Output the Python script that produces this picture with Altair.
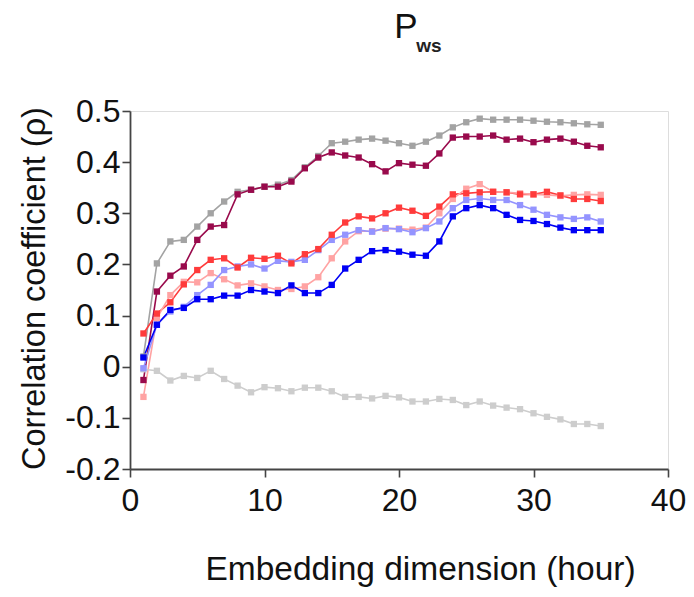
import altair as alt
import pandas as pd

# Embedding dimension (hour)
dims = list(range(1, 36))

series_names = ["s_gray", "s_maroon", "s_red", "s_pink", "s_lightblue", "s_blue", "s_lightgray"]
series_colors = ["#a3a3a3", "#990a4c", "#ff3b3b", "#ffa3a3", "#9494ff", "#0000f5", "#cdcdcd"]

gray = [0.02, 0.202, 0.245, 0.248, 0.274, 0.300, 0.323, 0.342, 0.346, 0.352,
        0.356, 0.365, 0.390, 0.412, 0.437, 0.440, 0.444, 0.446, 0.442, 0.437,
        0.432, 0.440, 0.452, 0.468, 0.478, 0.485, 0.483, 0.483, 0.483, 0.481,
        0.479, 0.478, 0.476, 0.474, 0.473]
maroon = [-0.026, 0.147, 0.178, 0.196, 0.248, 0.274, 0.277, 0.337, 0.346, 0.352,
          0.352, 0.362, 0.388, 0.409, 0.419, 0.413, 0.409, 0.396, 0.382, 0.398,
          0.395, 0.393, 0.417, 0.448, 0.450, 0.450, 0.452, 0.444, 0.446, 0.439,
          0.444, 0.446, 0.440, 0.432, 0.429]
red = [0.065, 0.104, 0.126, 0.161, 0.189, 0.209, 0.212, 0.194, 0.213, 0.211,
       0.217, 0.202, 0.220, 0.230, 0.258, 0.282, 0.294, 0.290, 0.300, 0.311,
       0.305, 0.295, 0.313, 0.337, 0.339, 0.341, 0.342, 0.341, 0.337, 0.337,
       0.342, 0.335, 0.328, 0.328, 0.324]
pink = [-0.059, 0.095, 0.140, 0.166, 0.165, 0.183, 0.171, 0.159, 0.163, 0.157,
        0.150, 0.152, 0.157, 0.175, 0.212, 0.245, 0.265, 0.265, 0.270, 0.270,
        0.268, 0.272, 0.300, 0.328, 0.348, 0.357, 0.342, 0.341, 0.339, 0.337,
        0.336, 0.334, 0.336, 0.337, 0.336]
lightblue = [-0.003, 0.082, 0.108, 0.117, 0.140, 0.160, 0.189, 0.196, 0.200, 0.192,
             0.207, 0.205, 0.209, 0.228, 0.248, 0.258, 0.267, 0.264, 0.271, 0.269,
             0.263, 0.271, 0.284, 0.310, 0.326, 0.329, 0.326, 0.326, 0.316, 0.307,
             0.297, 0.292, 0.289, 0.292, 0.284]
blue = [0.018, 0.082, 0.111, 0.115, 0.132, 0.132, 0.139, 0.139, 0.150, 0.147,
        0.144, 0.159, 0.144, 0.144, 0.160, 0.192, 0.209, 0.226, 0.228, 0.225,
        0.219, 0.217, 0.245, 0.294, 0.310, 0.316, 0.310, 0.297, 0.287, 0.285,
        0.279, 0.272, 0.267, 0.267, 0.267]
lightgray = [-0.005, -0.008, -0.027, -0.018, -0.022, -0.008, -0.024, -0.037, -0.050, -0.040,
             -0.042, -0.048, -0.041, -0.041, -0.048, -0.059, -0.059, -0.062, -0.057, -0.060,
             -0.068, -0.068, -0.063, -0.065, -0.075, -0.068, -0.076, -0.080, -0.083, -0.091,
             -0.098, -0.103, -0.112, -0.112, -0.116]

x_ticks = [0, 10, 20, 30, 40]
y_ticks = [-0.2, -0.1, 0.0, 0.1, 0.2, 0.3, 0.4, 0.5]
title_main = ["P"]
title_sub = ["ws"]
x_title = "Embedding dimension (hour)"
y_title = "Correlation coefficient (ρ)"

all_series = [gray, maroon, red, pink, lightblue, blue, lightgray]
draw_order = ["s_lightgray", "s_gray", "s_pink", "s_lightblue", "s_red", "s_maroon", "s_blue"]
rows = []
for name, vals in zip(series_names, all_series):
    for d, v in zip(dims, vals):
        rows.append({"dim": d, "rho": v, "series": name, "ord": draw_order.index(name)})
df = pd.DataFrame(rows)

FONT = "Liberation Sans"

x_enc = alt.X("dim:Q", scale=alt.Scale(domain=[0, 40], nice=False),
              axis=alt.Axis(values=x_ticks, format="d", title=x_title, grid=False,
                            tickSize=8, tickWidth=1.6, tickColor="#444",
                            domainColor="#444", domainWidth=1.8,
                            labelFont=FONT, labelFontSize=32, labelColor="#111",
                            labelPadding=8, labelFlush=False,
                            titleFont=FONT, titleFontSize=33.5, titleFontWeight="normal",
                            titleColor="#111", titleX=290, titleY=110,
                            titleBaseline="alphabetic", titleAlign="center"))
y_enc = alt.Y("rho:Q", scale=alt.Scale(domain=[-0.2, 0.5], nice=False, zero=False),
              axis=alt.Axis(values=y_ticks,
                            labelExpr="datum.value < -0.0001 ? '-' + format(-datum.value, '.1f') : (abs(datum.value) < 0.0001 ? '0' : format(datum.value, '.1f'))",
                            title=y_title, grid=False,
                            tickSize=8, tickWidth=1.6, tickColor="#444",
                            domainColor="#444", domainWidth=1.8,
                            labelFont=FONT, labelFontSize=32, labelColor="#111",
                            labelPadding=2, labelFlush=False,
                            titleFont=FONT, titleFontSize=32.5, titleFontWeight="normal",
                            titleColor="#111", titleX=-86, titleY=177, titleAngle=270,
                            titleBaseline="alphabetic", titleAlign="center"))
color_enc = alt.Color("series:N", scale=alt.Scale(domain=series_names, range=series_colors), legend=None)

base = alt.Chart(df)
lines = base.mark_line(strokeWidth=1.6).encode(
    x=x_enc, y=y_enc, color=color_enc, detail="series:N", order=alt.Order("dim:Q"))
points = base.mark_square(size=40, opacity=1, strokeWidth=0).encode(
    x="dim:Q", y="rho:Q", color=color_enc, order=alt.Order("ord:Q"))

t_main = alt.Chart(pd.DataFrame({"t": title_main})).mark_text(
    font=FONT, fontSize=35, color="#111", align="center", baseline="alphabetic"
).encode(text="t:N", x=alt.value(276), y=alt.value(-73))
t_sub = alt.Chart(pd.DataFrame({"t": title_sub})).mark_text(
    font=FONT, fontSize=19, fontWeight="bold", color="#222", align="center", baseline="alphabetic"
).encode(text="t:N", x=alt.value(299), y=alt.value(-59))

chart = alt.layer(lines, points, t_main, t_sub).properties(
    width=538, height=358,
    autosize=alt.AutoSizeParams(type="none"),
    padding={"left": 122, "top": 103, "right": 18, "bottom": 120},
).configure_view(stroke=None).configure(background="white")

chart.save("out.html", embed_options={"renderer": "svg", "actions": False})
